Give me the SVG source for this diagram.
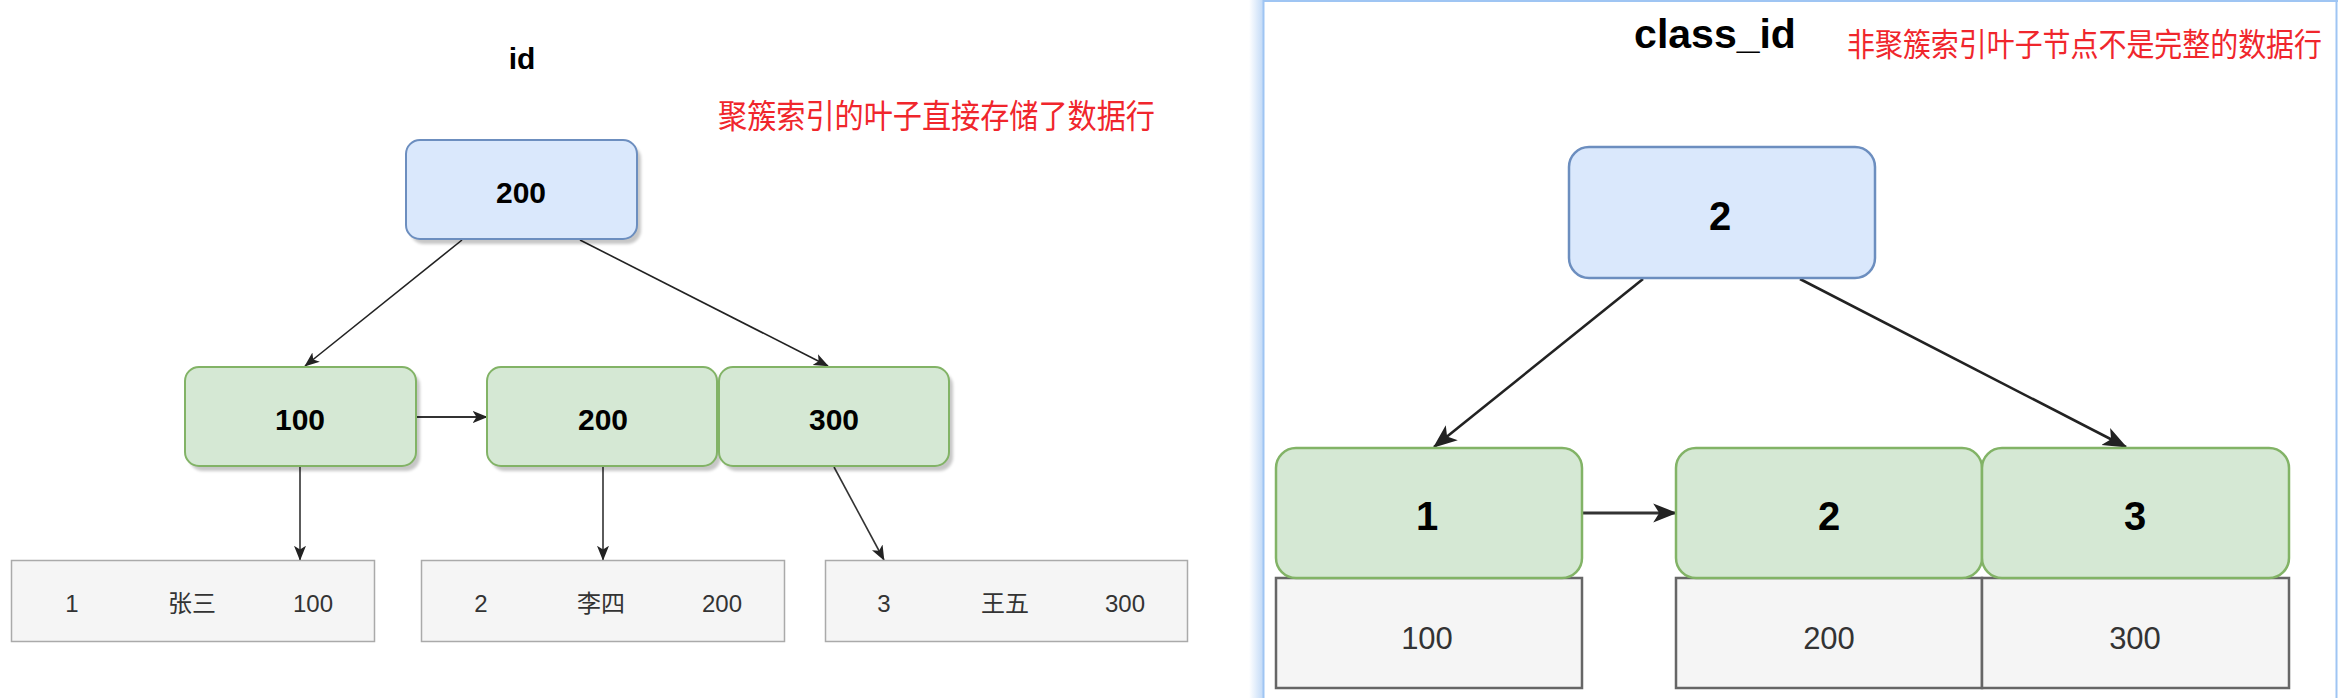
<svg xmlns="http://www.w3.org/2000/svg" width="2338" height="698" viewBox="0 0 2338 698">
<style>
.bg{fill:#ffffff}
.root{fill:#dae8fc;stroke:#6c8ebf}
.leafk{fill:#d5e8d4;stroke:#82b366}
.row{fill:#f5f5f5}
.shadow{fill:#000000;opacity:0.22}
.lbl{font-family:"Liberation Sans",Arial,sans-serif;font-weight:bold;fill:#000000;text-anchor:middle;dominant-baseline:central}
.ttl{font-family:"Liberation Sans",Arial,sans-serif;font-weight:bold;fill:#000000;text-anchor:middle}
.cell{font-family:"Liberation Sans","Noto Sans CJK SC",sans-serif;fill:#333333;text-anchor:middle;dominant-baseline:central}
.note{font-family:"Noto Sans CJK SC","Noto Sans CJK TC",sans-serif;fill:#f0262c}
.edge{fill:none;stroke:#222222}
.edge2{fill:none;stroke:#333333}
</style>
<defs>
<marker id="arrS" viewBox="0 0 20 20" refX="19" refY="10" markerWidth="15" markerHeight="15" markerUnits="userSpaceOnUse" orient="auto">
<path d="M0,2 L20,10 L0,18 L5,10 Z" fill="#222222"/>
</marker>
<marker id="arrL" viewBox="0 0 20 20" refX="19" refY="10" markerWidth="24" markerHeight="24" markerUnits="userSpaceOnUse" orient="auto">
<path d="M0,2 L20,10 L0,18 L5,10 Z" fill="#222222"/>
</marker>
<linearGradient id="glow" x1="0" y1="0" x2="1" y2="0">
<stop offset="0" stop-color="#ffffff"/>
<stop offset="1" stop-color="#c2daf7"/>
</linearGradient>
<filter id="blur" x="-10%" y="-10%" width="120%" height="130%">
<feGaussianBlur stdDeviation="1.5"/>
</filter>
</defs>
<rect class="bg" x="0" y="0" width="2338" height="698"/>

<g id="panel-frame">
<rect x="1249" y="0" width="14" height="698" fill="url(#glow)"/>
<line x1="1263.5" y1="0" x2="1263.5" y2="698" stroke="#9fc5f3" stroke-width="2"/>
<line x1="1263" y1="1" x2="2338" y2="1" stroke="#9fc5f3" stroke-width="2"/>
<line x1="2336.5" y1="0" x2="2336.5" y2="698" stroke="#9fc5f3" stroke-width="2"/>
</g>

<!-- Left panel -->
<g id="title-id"><text class="ttl" x="522" y="69" font-size="30">id</text></g>
<g id="note-clustered"><text class="note" x="718" y="128" font-size="33" textLength="437" lengthAdjust="spacingAndGlyphs">聚簇索引的叶子直接存储了数据行</text></g>

<g id="connectors-left">
<line class="edge" x1="462" y1="240" x2="305" y2="366" stroke-width="1.6" marker-end="url(#arrS)"/>
<line class="edge" x1="580" y1="240" x2="828" y2="366" stroke-width="1.6" marker-end="url(#arrS)"/>
<line class="edge2" x1="417" y1="417" x2="487" y2="417" stroke-width="2" marker-end="url(#arrS)"/>
<line class="edge2" x1="300" y1="467" x2="300" y2="560" stroke-width="1.6" marker-end="url(#arrS)"/>
<line class="edge2" x1="603" y1="467" x2="603" y2="560" stroke-width="1.6" marker-end="url(#arrS)"/>
<line class="edge2" x1="834" y1="467" x2="884" y2="560" stroke-width="1.6" marker-end="url(#arrS)"/>
</g>

<g id="node-root-200">
<rect class="shadow" x="410" y="145" width="231" height="99" rx="14" filter="url(#blur)"/>
<rect class="root" x="406" y="140" width="231" height="99" rx="14" stroke-width="2"/>
<text class="lbl" x="521" y="192" font-size="30">200</text>
</g>

<g id="node-100">
<rect class="shadow" x="189" y="372" width="231" height="99" rx="14" filter="url(#blur)"/>
<rect class="leafk" x="185" y="367" width="231" height="99" rx="14" stroke-width="2"/>
<text class="lbl" x="300" y="419" font-size="30">100</text>
</g>
<g id="node-200">
<rect class="shadow" x="491" y="372" width="230" height="99" rx="14" filter="url(#blur)"/>
<rect class="leafk" x="487" y="367" width="230" height="99" rx="14" stroke-width="2"/>
<text class="lbl" x="603" y="419" font-size="30">200</text>
</g>
<g id="node-300">
<rect class="shadow" x="723" y="372" width="230" height="99" rx="14" filter="url(#blur)"/>
<rect class="leafk" x="719" y="367" width="230" height="99" rx="14" stroke-width="2"/>
<text class="lbl" x="834" y="419" font-size="30">300</text>
</g>

<g id="row-1">
<rect class="row" x="11.5" y="560.5" width="363" height="81" stroke="#aaaaaa" stroke-width="1.5"/>
<text class="cell" x="72" y="603" font-size="24">1</text>
<text class="cell" x="192" y="603" font-size="24">张三</text>
<text class="cell" x="313" y="603" font-size="24">100</text>
</g>
<g id="row-2">
<rect class="row" x="421.5" y="560.5" width="363" height="81" stroke="#aaaaaa" stroke-width="1.5"/>
<text class="cell" x="481" y="603" font-size="24">2</text>
<text class="cell" x="601" y="603" font-size="24">李四</text>
<text class="cell" x="722" y="603" font-size="24">200</text>
</g>
<g id="row-3">
<rect class="row" x="825.5" y="560.5" width="362" height="81" stroke="#aaaaaa" stroke-width="1.5"/>
<text class="cell" x="884" y="603" font-size="24">3</text>
<text class="cell" x="1005" y="603" font-size="24">王五</text>
<text class="cell" x="1125" y="603" font-size="24">300</text>
</g>

<!-- Right panel -->
<g id="title-class-id"><text class="ttl" x="1715" y="48" font-size="41">class_id</text></g>
<g id="note-secondary"><text class="note" x="1847" y="56" font-size="31.5" textLength="475" lengthAdjust="spacingAndGlyphs">非聚簇索引叶子节点不是完整的数据行</text></g>

<g id="connectors-right">
<line class="edge" x1="1643" y1="279" x2="1434" y2="447" stroke-width="2.6" marker-end="url(#arrL)"/>
<line class="edge" x1="1800" y1="279" x2="2126" y2="447" stroke-width="2.6" marker-end="url(#arrL)"/>
<line class="edge2" x1="1583" y1="513" x2="1676" y2="513" stroke-width="3" marker-end="url(#arrL)"/>
</g>

<g id="node-root-2">
<rect class="root" x="1569" y="147" width="306" height="131" rx="20" stroke-width="2.5"/>
<text class="lbl" x="1720" y="216" font-size="40">2</text>
</g>

<g id="node-1">
<rect class="row" x="1276" y="578" width="306" height="110" stroke="#666666" stroke-width="2.5"/>
<rect class="leafk" x="1276" y="448" width="306" height="130" rx="20" stroke-width="2.5"/>
<text class="lbl" x="1427" y="516" font-size="40">1</text>
<text class="cell" x="1427" y="638" font-size="31">100</text>
</g>
<g id="node-2">
<rect class="row" x="1676" y="578" width="306" height="110" stroke="#666666" stroke-width="2.5"/>
<rect class="leafk" x="1676" y="448" width="306" height="130" rx="20" stroke-width="2.5"/>
<text class="lbl" x="1829" y="516" font-size="40">2</text>
<text class="cell" x="1829" y="638" font-size="31">200</text>
</g>
<g id="node-3">
<rect class="row" x="1982" y="578" width="307" height="110" stroke="#666666" stroke-width="2.5"/>
<rect class="leafk" x="1982" y="448" width="307" height="130" rx="20" stroke-width="2.5"/>
<text class="lbl" x="2135" y="516" font-size="40">3</text>
<text class="cell" x="2135" y="638" font-size="31">300</text>
</g>
</svg>
